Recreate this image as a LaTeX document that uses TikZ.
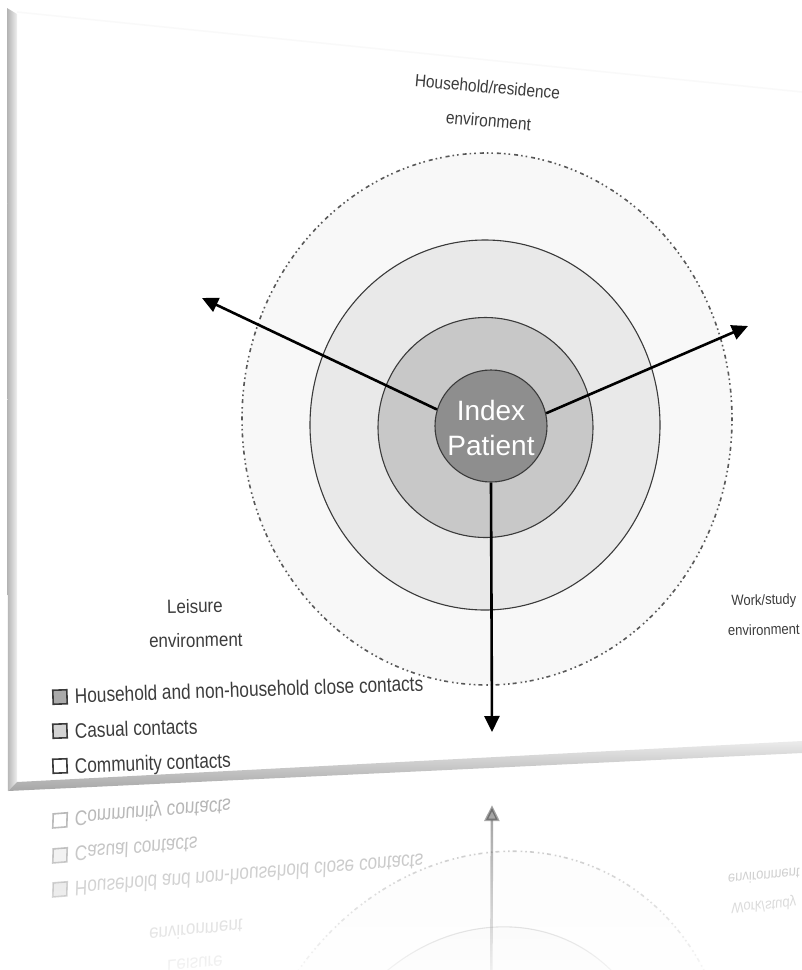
\documentclass[tikz,border=0pt]{standalone}
\usepackage{fontspec}
\setmainfont{Liberation Sans}
\newfontfamily\narrowfont[FakeStretch=0.88]{Liberation Sans}
\newfontfamily\legfont[FakeStretch=0.82]{Liberation Sans}
\usetikzlibrary{arrows.meta}

\definecolor{ringdot}{HTML}{F8F8F8}
\definecolor{ringout}{HTML}{E9E9E9}
\definecolor{ringmid}{HTML}{C8C8C8}
\definecolor{ringin}{HTML}{8E8E8E}
\definecolor{edgec}{HTML}{3A3A3A}
\definecolor{txtc}{HTML}{3C3C3C}

\tikzset{
  ring/.style={draw=edgec, line width=1.1pt},
  dotring/.style={draw=edgec!85, line width=1.6pt,
    dash pattern=on 1.6pt off 3pt on 1.6pt off 3pt on 4pt off 4pt},
  lbl/.style={text=txtc, font=\narrowfont\fontsize{#1}{#1}\selectfont,
    inner sep=0pt, anchor=base},
  idxtxt/.style={text=white, font=\fontsize{28}{28}\selectfont,
    inner sep=0pt, anchor=base},
  idxnode/.style={circle, fill=ringin, draw=edgec, line width=1.1pt,
    minimum size=112pt, inner sep=0pt},
  arr/.style={draw=black, line width=2.6pt,
    -{Triangle[length=16pt,width=15pt]}},
  legbox/.style={draw=edgec, line width=1.6pt, minimum size=14pt,
    inner sep=0pt, rotate=2},
  legtxt/.style={text=txtc, font=\legfont\fontsize{21}{21}\selectfont,
    inner sep=0pt, anchor=base west, rotate=2},
}

\newcommand\diagshapes{%
  \path[fill=ringdot, dotring] (487,419) ellipse [x radius=245pt, y radius=266pt];
  \path[fill=ringout, ring] (485,425) ellipse [x radius=175pt, y radius=185pt];
  \path[fill=ringmid, ring] (485.5,427.5) ellipse [x radius=107.5pt, y radius=110pt];
  \node[idxnode] (idx) at (491,426) {};
  \coordinate (tipL) at (202,298);
  \coordinate (tipR) at (748,326);
  \coordinate (tipD) at (492,732);
  \draw[arr] (idx.163) -- (tipL);
  \draw[arr] (idx.13) -- (tipR);
  \draw[arr] (idx.south) -- (tipD);
}
\newcommand\diaglabels{%
  \node[lbl=19.3, rotate=1] (lA) at (195,613) {Leisure};
  \node[lbl=19.3, rotate=1] (lB) at (196,647) {environment};
  \node[lbl=14.8, rotate=1.5] (wA) at (764,605) {Work/study};
  \node[lbl=14.8, rotate=1.5] (wB) at (764,635) {environment};
  \node[legbox, fill=ringin!75] (k1) at (60,697) {};
  \node[legbox, fill=ringmid!80] (k2) at (60,731) {};
  \node[legbox, fill=white] (k3) at (60,766) {};
  \node[legtxt] (t1) at (75,703) {Household and non-household close contacts};
  \node[legtxt] (t2) at (75,738) {Casual contacts};
  \node[legtxt] (t3) at (75,773) {Community contacts};
}

\begin{document}
\begin{tikzpicture}[x=1pt, y=-1pt]
  \useasboundingbox (0,0) rectangle (802,970);
  \fill[white] (0,0) rectangle (802,970);

  % reflection
  \begin{scope}
    \clip (0,797) -- (802,751) -- (802,970) -- (0,970) -- cycle;
    \begin{scope}[cm={1,0.114,0,-1,(0pt,-1593.2pt)}, transform shape, opacity=0.42]
      \diagshapes
      \diaglabels
    \end{scope}
    \foreach \i in {0,...,63} {
      \pgfmathsetmacro\op{min(0.88,(3*\i+1.5)/220)}
      \fill[white, opacity=\op] (0,780+3*\i) rectangle (802,783.2+3*\i);
    }
  \end{scope}

  % main diagram
  \diagshapes
  \node[idxtxt] (idxA) at (491,420) {Index};
  \node[idxtxt] (idxB) at (491,455) {Patient};
  \node[lbl=17.6, rotate=-5] (hA) at (487,93) {Household/residence};
  \node[lbl=17.6, rotate=-5] (hB) at (488,127) {environment};
  \diaglabels

  % page frame
  \draw[gray!5, line width=1.5pt] (17,12) -- (802,92);
  \shade[left color=gray!60, right color=gray!12] (7,8) -- (17,14) -- (17,782) -- (8,791) -- cycle;
  \shade[top color=gray!15, bottom color=gray!70] (8,791) -- (17,782) -- (802,741) -- (802,753) -- cycle;
\end{tikzpicture}
\end{document}
